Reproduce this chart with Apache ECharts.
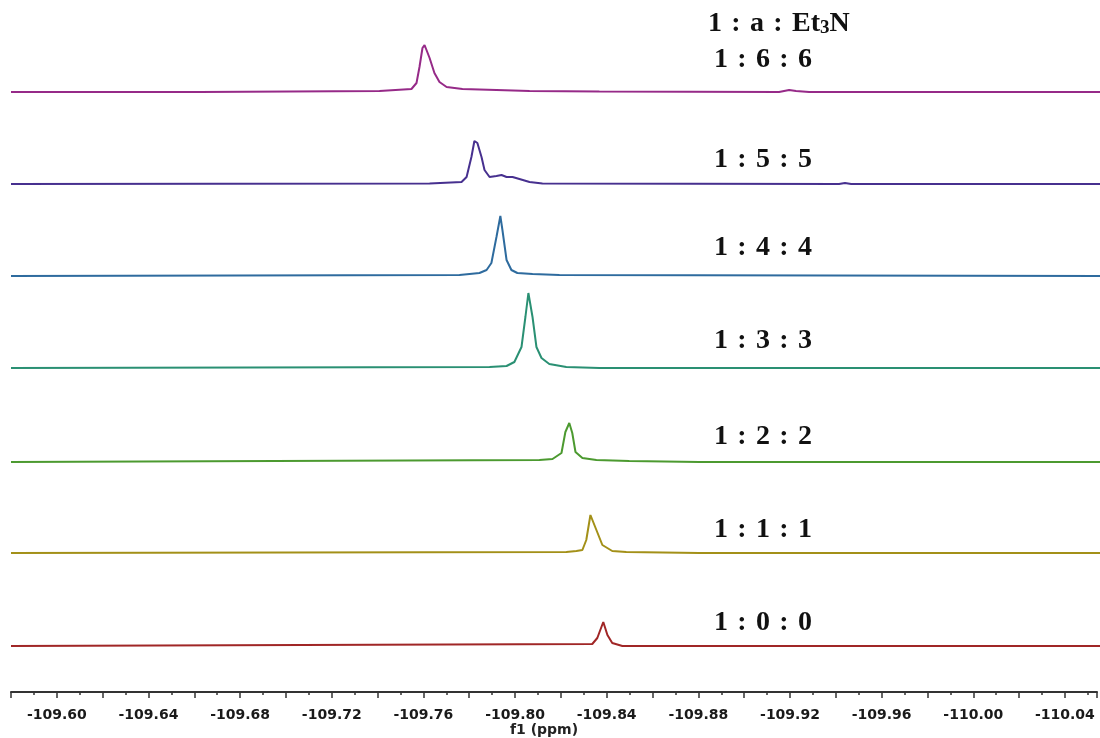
<!DOCTYPE html>
<html>
<head>
<meta charset="utf-8">
<script src="https://cdn.jsdelivr.net/npm/echarts@6/dist/echarts.min.js"></script>
<style>
  html, body { margin: 0; padding: 0; background: #ffffff; }
  #chart { width: 1100px; height: 738px; }
</style>
</head>
<body>
<div id="chart"></div>
<script>
// 化学位移 (ppm, 取绝对值, 轴标签再加负号) 与强度 (任意单位, 0 为基线)
const shift166 = [109.58, 109.6622, 109.7404, 109.7543, 109.7565, 109.7578, 109.7591, 109.7600, 109.7622, 109.7643, 109.7665, 109.7696, 109.7765, 109.7913, 109.8057, 109.8361, 109.9143, 109.9187, 109.9217, 109.9274, 110.054]
const int166 = [0, 0, 1, 3, 9, 25, 44, 47, 34, 19, 10, 5, 3, 2, 1, 0.5, 0, 2, 1, 0, 0]

const shift155 = [109.58, 109.7622, 109.7761, 109.7783, 109.7804, 109.7817, 109.7830, 109.7848, 109.7861, 109.7883, 109.7913, 109.7935, 109.7957, 109.7983, 109.8013, 109.8057, 109.8113, 109.9404, 109.9430, 109.9457, 110.054]
const int155 = [0, 0.5, 2, 7, 27, 43, 41, 27, 14, 7, 8, 9, 7, 7, 5, 2, 0.5, 0, 1, 0, 0]

const shift144 = [109.58, 109.7752, 109.7796, 109.7839, 109.7870, 109.7891, 109.7913, 109.7930, 109.7939, 109.7957, 109.7978, 109.8004, 109.8070, 109.8187, 110.054]
const int144 = [0, 1, 2, 3, 6, 13, 39, 60, 46, 16, 6, 3, 2, 1, 0]

const shift133 = [109.58, 109.7883, 109.7957, 109.7991, 109.8022, 109.8039, 109.8052, 109.8070, 109.8087, 109.8109, 109.8143, 109.8217, 109.8361, 110.054]
const int133 = [0, 1, 2, 6, 21, 51, 75, 51, 21, 10, 4, 1, 0, 0]

const shift122 = [109.58, 109.8100, 109.8157, 109.8196, 109.8213, 109.8230, 109.8243, 109.8257, 109.8287, 109.8348, 109.8491, 109.8796, 110.054]
const int122 = [0, 2, 3, 9, 30, 39, 29, 10, 4, 2, 1, 0, 0]

const shift111 = [109.58, 109.8217, 109.8261, 109.8287, 109.8304, 109.8322, 109.8348, 109.8374, 109.8417, 109.8478, 109.8796, 110.054]
const int111 = [0, 1, 2, 3, 13, 38, 23, 8, 2, 1, 0, 0]

const shift100 = [109.58, 109.8330, 109.8352, 109.8378, 109.8396, 109.8417, 109.8461, 110.054]
const int100 = [0, 2, 8, 24, 11, 3, 0, 0]

const ratioLabels = ['1\u2004:\u20046\u2004:\u20046', '1\u2004:\u20045\u2004:\u20045', '1\u2004:\u20044\u2004:\u20044', '1\u2004:\u20043\u2004:\u20043', '1\u2004:\u20042\u2004:\u20042', '1\u2004:\u20041\u2004:\u20041', '1\u2004:\u20040\u2004:\u20040']

const xMin = 109.58
const xMax = 110.054

const myChart = echarts.init(document.getElementById('chart'))

// 每条谱线一个 grid, 基线位置 (px)
const traces = [
  { x: shift166, y: int166, color: '#962a88', base: 92, labelY: 60 },
  { x: shift155, y: int155, color: '#47308f', base: 184, labelY: 160 },
  { x: shift144, y: int144, color: '#2e6b9e', base: 276, labelY: 248 },
  { x: shift133, y: int133, color: '#2a9073', base: 368, labelY: 341 },
  { x: shift122, y: int122, color: '#4c9a30', base: 462, labelY: 437 },
  { x: shift111, y: int111, color: '#a39018', base: 553, labelY: 530 },
  { x: shift100, y: int100, color: '#a02626', base: 646, labelY: 623 }
]

const grid = []
const xAxis = []
const yAxis = []
const series = []
const graphic = []

traces.forEach((t, i) => {
  grid.push({ left: 11, right: 0, top: t.base - 90, height: 100 })
  xAxis.push({ type: 'value', gridIndex: i, min: xMin, max: xMax, show: false })
  yAxis.push({ type: 'value', gridIndex: i, min: -10, max: 90, show: false })
  series.push({
    type: 'line',
    xAxisIndex: i,
    yAxisIndex: i,
    data: t.x.map((v, k) => [v, t.y[k]]),
    showSymbol: false,
    lineStyle: { color: t.color, width: 2 },
    clip: false
  })
  graphic.push({
    type: 'text',
    x: 714,
    y: t.labelY,
    style: {
      text: ratioLabels[i],
      fill: '#111',
      font: 'bold 28px "Liberation Serif", serif',
      textVerticalAlign: 'middle'
    }
  })
})

// 坐标轴
grid.push({ left: 11, right: 0, top: 600, bottom: 44 })
xAxis.push({
  type: 'value',
  gridIndex: 7,
  min: xMin,
  max: xMax,
  interval: 0.02,
  name: 'f1 (ppm)',
  nameLocation: 'middle',
  nameGap: 31,
  nameTextStyle: {
    color: '#222',
    fontFamily: 'DejaVu Sans',
    fontWeight: 'bold',
    fontSize: 14,
    padding: [0, 20, 0, 0]
  },
  axisLine: { show: true, lineStyle: { color: '#333', width: 2 } },
  axisTick: { show: true, length: 6, lineStyle: { color: '#333', width: 1.5 } },
  minorTick: { show: true, splitNumber: 2, length: 3, lineStyle: { color: '#333', width: 1.5 } },
  splitLine: { show: false },
  axisLabel: {
    margin: 16,
    color: '#1a1a1a',
    fontFamily: 'DejaVu Sans',
    fontWeight: 'bold',
    fontSize: 14,
    formatter: function (v) {
      const n = Math.round(v * 100)
      if (n % 4 === 0) return '-' + v.toFixed(2)
      return ''
    }
  }
})
yAxis.push({ type: 'value', gridIndex: 7, show: false })

// 标题: 1 : a : Et3N
graphic.push({
  type: 'text',
  x: 708,
  y: 24,
  style: {
    text: '{a|1\u2004:\u2004a\u2004:\u2004Et}{s|3}{a|N}',
    textVerticalAlign: 'middle',
    rich: {
      a: { font: 'bold 28px "Liberation Serif", serif', fill: '#111', color: '#111', lineHeight: 32 },
      s: { font: 'bold 19px "Liberation Serif", serif', fill: '#111', color: '#111', lineHeight: 32, padding: [9, 0, 0, 0] }
    }
  }
})

myChart.setOption({
  animation: false,
  backgroundColor: '#ffffff',
  grid: grid,
  xAxis: xAxis,
  yAxis: yAxis,
  series: series,
  graphic: graphic
})
</script>
</body>
</html>
